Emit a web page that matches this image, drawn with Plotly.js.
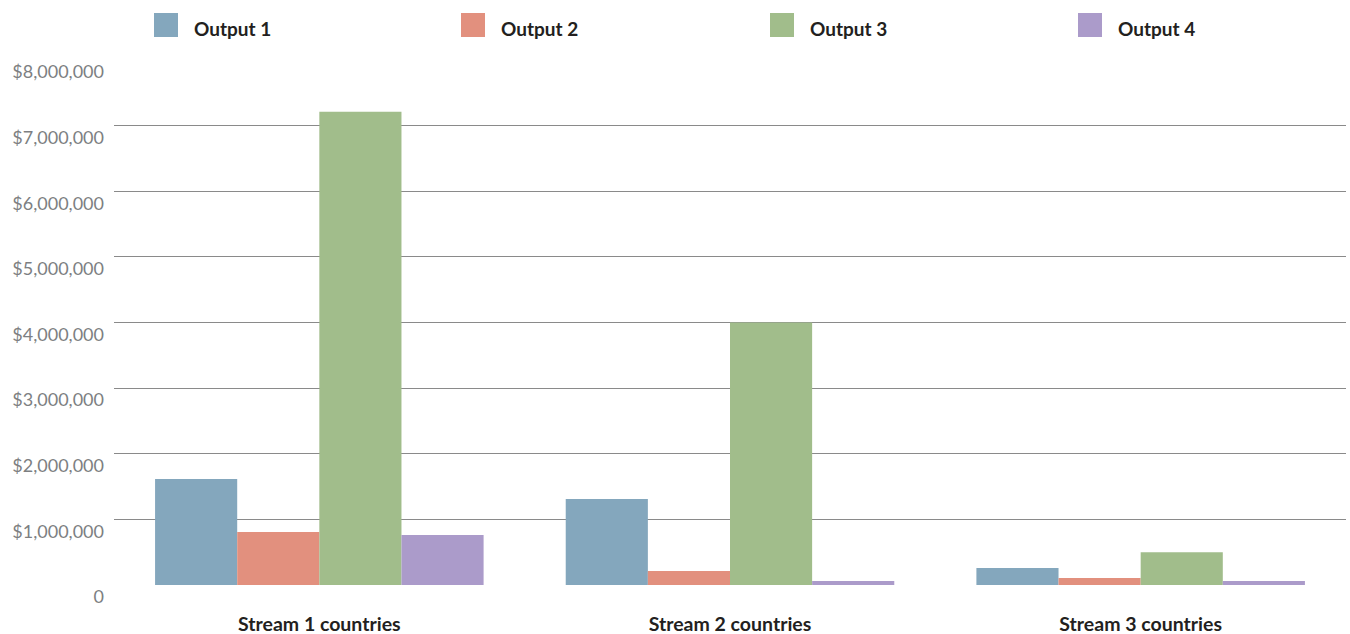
<!DOCTYPE html>
<html>
<head>
<meta charset="utf-8">
<script src="https://cdn.plot.ly/plotly-3.0.1.min.js"></script>
<style>html,body{margin:0;padding:0;background:#fff;}#chart{width:1350px;height:634px;}</style>
</head>
<body>
<div id="chart"></div>
<script>
// ---- data ----
var categories = ["Stream 1 countries", "Stream 2 countries", "Stream 3 countries"];
var seriesNames = ["Output 1", "Output 2", "Output 3", "Output 4"];
var output1 = [1615000, 1310000, 260000];
var output2 = [808000, 213000, 107000];
var output3 = [7210000, 4000000, 500000];
var output4 = [763000, 60000, 60000];
var yTickVals = [0, 1000000, 2000000, 3000000, 4000000, 5000000, 6000000, 7000000, 8000000];
var yTickText = ["0", "$1,000,000", "$2,000,000", "$3,000,000", "$4,000,000", "$5,000,000", "$6,000,000", "$7,000,000", "$8,000,000"];
var gridVals = [1000000, 2000000, 3000000, 4000000, 5000000, 6000000, 7000000];

// ---- styles ----
var colors = ["#84a7bd", "#e2907e", "#a1bd8b", "#ab9bca"];
var seriesValues = [output1, output2, output3, output4];

var traces = seriesValues.map(function (vals, i) {
  return {
    type: "bar",
    name: seriesNames[i],
    x: categories,
    y: vals,
    marker: { color: colors[i], line: { width: 0 } },
    showlegend: false,
    hoverinfo: "x+y+name"
  };
});

// custom legend (large square swatches)
var plotL = 114, plotW = 1232, plotB = 585, plotH = 525;
var legendX = [154, 461, 770, 1078];
var shapes = [];
var annotations = [];
seriesNames.forEach(function (n, i) {
  shapes.push({
    type: "rect", xref: "paper", yref: "paper", layer: "above",
    x0: (legendX[i] - plotL) / plotW, x1: (legendX[i] + 24 - plotL) / plotW,
    y0: (plotB - 37) / plotH, y1: (plotB - 13) / plotH,
    fillcolor: colors[i], line: { width: 0 }
  });
  annotations.push({
    xref: "paper", yref: "paper",
    x: (legendX[i] + 38 - plotL) / plotW, y: (plotB - 28) / plotH,
    xanchor: "left", yanchor: "middle", showarrow: false,
    text: "<b>" + n + "</b>",
    font: { family: "Lato, sans-serif", size: 19, color: "#231f20" }
  });
});

var layout = {
  width: 1350, height: 634,
  margin: { l: 114, r: 4, t: 60, b: 49, pad: 0 },
  paper_bgcolor: "#ffffff", plot_bgcolor: "#ffffff",
  barmode: "group", bargap: 0.2, bargroupgap: 0,
  showlegend: false,
  xaxis: {
    type: "category",
    showgrid: false, zeroline: false, showline: false, ticks: "",
    tickfont: { family: "Lato, sans-serif", size: 19.5, color: "#231f20", weight: "bold" },
    ticklabelstandoff: 25
  },
  yaxis: {
    range: [0, 8000000],
    tickmode: "array", tickvals: yTickVals, ticktext: yTickText,
    showgrid: false, zeroline: false, showline: false, ticks: "",
    ticklabelshift: 12, ticklabelstandoff: 9,
    tickfont: { family: "Lato, sans-serif", size: 18, color: "#7d7f82" },
    minor: { tickmode: "array", tickvals: gridVals, showgrid: true, gridcolor: "#8a8a8a", gridwidth: 1.2, ticks: "" }
  },
  shapes: shapes,
  annotations: annotations
};

Plotly.newPlot("chart", traces, layout, { displayModeBar: false, staticPlot: true });
</script>
</body>
</html>
